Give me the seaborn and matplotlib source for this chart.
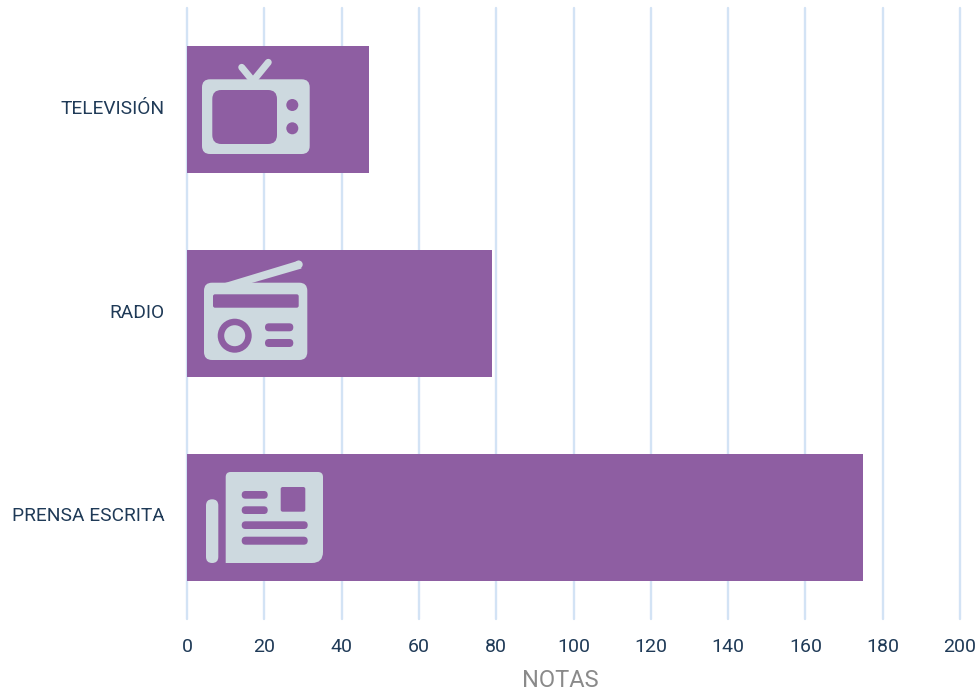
import matplotlib
matplotlib.use('Agg')
import matplotlib.pyplot as plt
import pandas as pd
import seaborn as sns
from matplotlib.patches import Circle, FancyBboxPatch, PathPatch, Polygon
from matplotlib.path import Path
from matplotlib.transforms import ScaledTranslation

categorias = ['TELEVISIÓN', 'RADIO', 'PRENSA ESCRITA']
notas = [47, 79, 175]
ticks_x = [0, 20, 40, 60, 80, 100, 120, 140, 160, 180, 200]

MORADO = '#8e5ea2'
ICONO = '#cdd9df'
GRID = '#d3e3f5'
TEXTO = '#1f3a57'
GRIS = '#8a8a8a'

sns.set_style('white')
plt.rcParams['font.family'] = ['Roboto', 'DejaVu Sans']

df = pd.DataFrame({'medio': categorias, 'notas': notas})

W, H = 976, 694
fig = plt.figure(figsize=(W / 100, H / 100), dpi=100)
ax = fig.add_axes([187 / W, 1 - 619 / H, 773 / W, 611 / H])

sns.barplot(data=df, x='notas', y='medio', color=MORADO, saturation=1, width=0.624,
            linewidth=0, ax=ax)

ax.set_xlim(0, 200)
ax.set_ylim(2.5, -0.5)
ax.set_xticks(ticks_x)
ax.set_axisbelow(True)
ax.grid(axis='x', color=GRID, linewidth=1.7)
for g in ax.get_xgridlines():
    g.set_clip_on(False)
sns.despine(ax=ax, left=True, bottom=True)
ax.tick_params(axis='x', length=0, pad=14, labelsize=14, labelcolor=TEXTO)
ax.tick_params(axis='y', length=0, pad=16, labelsize=13.8, labelcolor=TEXTO)
subir = ScaledTranslation(0, 2 / 72, fig.dpi_scale_trans)
for t in ax.get_yticklabels():
    t.set_transform(t.get_transform() + subir)
ax.set_ylabel('')
ax.set_xlabel('NOTAS', fontsize=17, color=GRIS)
ax.xaxis.set_label_coords((560 - 187) / 773, -50 / 611)

# capa en pixeles para los iconos
capa = fig.add_axes([0, 0, 1, 1], facecolor='none')
capa.set_xlim(0, W)
capa.set_ylim(H, 0)
capa.axis('off')


def caja(x0, y0, x1, y1, r, color=ICONO):
    capa.add_patch(FancyBboxPatch((x0 + r, y0 + r), x1 - x0 - 2 * r, y1 - y0 - 2 * r,
                                  boxstyle=f'round,pad={r},rounding_size={r}',
                                  fc=color, ec='none'))


def pastilla(x0, y0, x1, y1, color=MORADO):
    caja(x0, y0, x1, y1, min(x1 - x0, y1 - y0) / 2 - 0.01, color)


# television
caja(202, 79.3, 309.7, 154, 8)
caja(212.3, 90, 277, 144, 9, MORADO)
capa.add_patch(Circle((292.3, 105), 6, fc=MORADO, ec='none'))
capa.add_patch(Circle((292.3, 128.3), 6, fc=MORADO, ec='none'))
capa.plot([241.7, 253, 268.3], [67.3, 81, 62.3], color=ICONO, lw=5,
          solid_capstyle='round', solid_joinstyle='miter')

# radio
caja(204, 282.7, 307.3, 360, 8)
capa.add_patch(Polygon([(225, 283), (298.5, 260.7), (301.5, 268.5), (251.7, 283)], fc=ICONO, ec='none'))
capa.add_patch(Circle((298.7, 264.5), 4, fc=ICONO, ec='none'))
caja(213, 294.3, 298.7, 307.7, 2, MORADO)
capa.add_patch(Circle((234.7, 335.7), 17, fc=MORADO, ec='none'))
capa.add_patch(Circle((234.7, 335.7), 10.5, fc=ICONO, ec='none'))
pastilla(265, 323.3, 293.3, 331.3)
pastilla(265, 339, 293.3, 347)

# prensa
verts = [(225.7, 563), (225.7, 477), (225.7, 472), (230.7, 472), (318, 472), (323, 472), (323, 477),
         (323, 552), (323, 563), (312, 563), (225.7, 563)]
codes = [Path.MOVETO, Path.LINETO, Path.CURVE3, Path.CURVE3, Path.LINETO, Path.CURVE3, Path.CURVE3,
         Path.LINETO, Path.CURVE3, Path.CURVE3, Path.CLOSEPOLY]
capa.add_patch(PathPatch(Path(verts, codes), fc=ICONO, ec='none'))
pastilla(206, 499.3, 218.3, 563, ICONO)
caja(280.7, 487, 305.3, 511.7, 2, MORADO)
pastilla(241.7, 491, 267.7, 498.7)
pastilla(241.7, 506.3, 267.7, 514)
pastilla(241.7, 521.3, 307.7, 529)
pastilla(241.7, 536.7, 307.7, 544.7)

fig.savefig('out.png', dpi=100, facecolor='white')
